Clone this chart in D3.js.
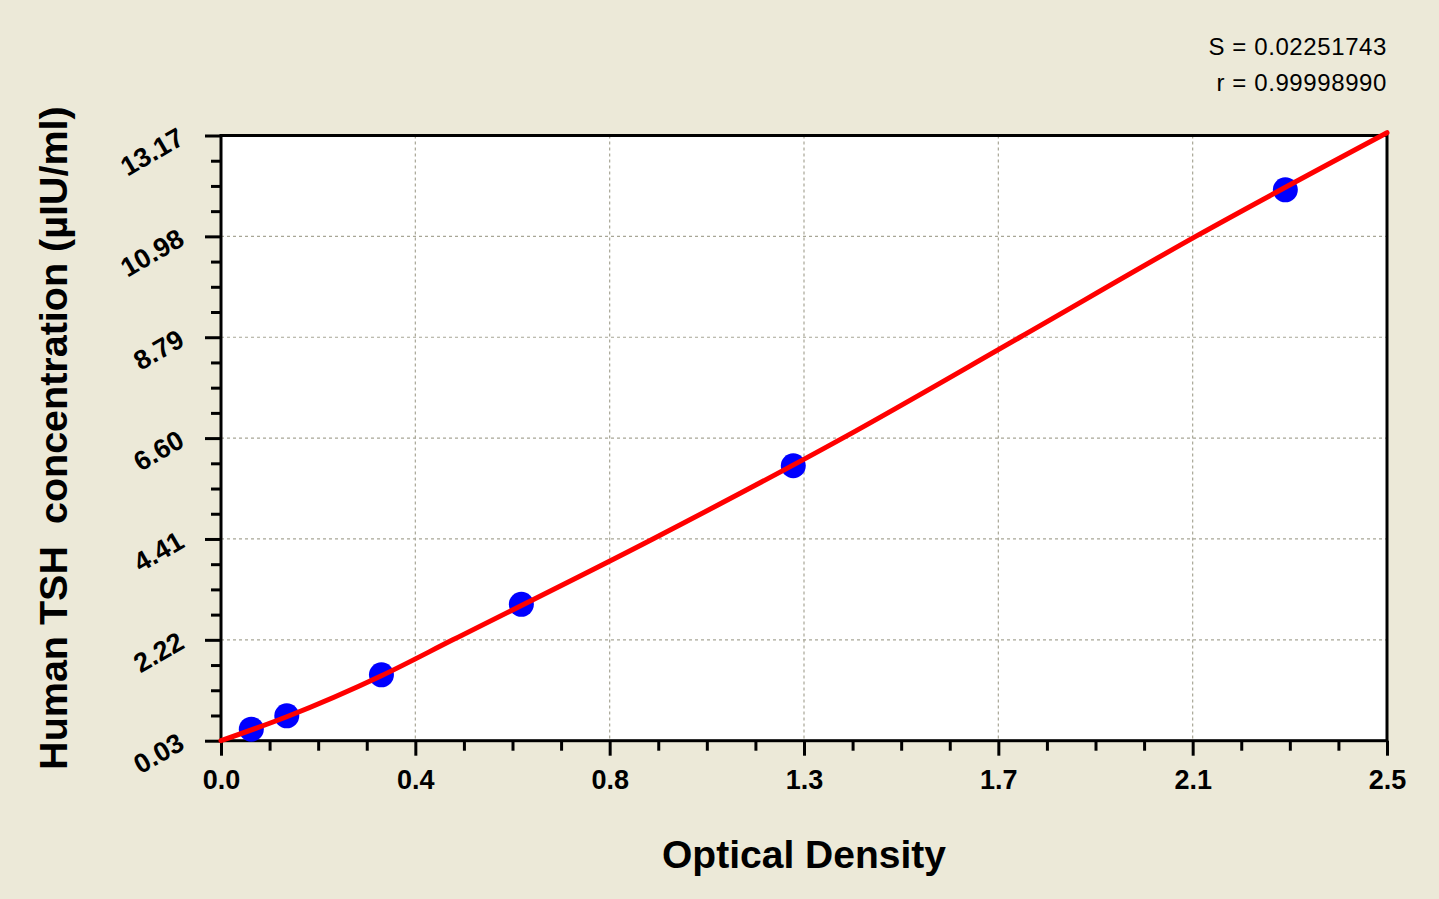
<!DOCTYPE html>
<html>
<head>
<meta charset="utf-8">
<script src="https://cdn.jsdelivr.net/npm/d3@7"></script>
<style>
  html, body { margin: 0; padding: 0; background: #ECE9D8; }
  svg { display: block; }
  text { font-family: "Liberation Sans", Arial, sans-serif; }
</style>
</head>
<body>
<svg id="chart" width="1439" height="899"></svg>
<script>
// ---- data ----
const pointOD   = [0.065, 0.141, 0.344, 0.644, 1.227, 2.282];
const pointConc = [0.28, 0.57, 1.46, 2.99, 6.00, 11.99];

// fitted curve read where it crosses the grid lines
const curveOD   = [0, 0.141, 0.344, 0.497, 0.926, 1.333, 1.713, 2.09, 2.5];
const curveConc = [0.03, 0.55, 1.44, 2.22, 4.41, 6.60, 8.79, 10.98, 13.23];

const xTickValues = [0, 0.41667, 0.83333, 1.25, 1.66667, 2.08333, 2.5];
const xTickLabels = ["0.0", "0.4", "0.8", "1.3", "1.7", "2.1", "2.5"];
const yTickValues = [0.03, 2.22, 4.41, 6.60, 8.79, 10.98, 13.17];
const yTickLabels = ["0.03", "2.22", "4.41", "6.60", "8.79", "10.98", "13.17"];

const xTitle = "Optical Density";
const yTitle = "Human TSH  concentration (\u00B5IU/ml)";
const statLines = ["S = 0.02251743", "r = 0.99998990"];

// ---- layout ----
const pL = 221, pR = 1387, pT = 135.5, pB = 740.7;
const svg = d3.select("#chart");

const x = d3.scaleLinear().domain([0, 2.5]).range([pL, pR]);
const y = d3.scaleLinear().domain([0.03, 13.17]).range([pB, pT]);

// plot background
svg.append("rect")
  .attr("x", pL).attr("y", pT)
  .attr("width", pR - pL).attr("height", pB - pT)
  .attr("fill", "#ffffff");

// grid
const grid = svg.append("g").attr("stroke", "#a8a696").attr("stroke-width", 1.2)
  .attr("stroke-dasharray", "3,3");
grid.selectAll("line.v").data(xTickValues.slice(1, -1)).join("line")
  .attr("x1", d => x(d)).attr("x2", d => x(d))
  .attr("y1", pT).attr("y2", pB);
grid.selectAll("line.h").data(yTickValues.slice(1, -1)).join("line")
  .attr("x1", pL).attr("x2", pR)
  .attr("y1", d => y(d)).attr("y2", d => y(d));

// minor ticks: 3 between each major
function minors(vals) {
  const out = [];
  for (let i = 0; i < vals.length - 1; i++) {
    for (let k = 1; k < 4; k++) out.push(vals[i] + (vals[i + 1] - vals[i]) * k / 4);
  }
  return out;
}

// x axis
const xMinor = d3.axisBottom(x).tickValues(minors(xTickValues)).tickSize(10).tickFormat("");
const xMajor = d3.axisBottom(x).tickValues(xTickValues).tickSize(15).tickPadding(14)
  .tickFormat((d, i) => xTickLabels[i]);
svg.append("g").attr("transform", `translate(0,${pB})`).call(xMinor)
  .call(g => g.select(".domain").remove())
  .call(g => g.selectAll("line").attr("stroke", "#000").attr("stroke-width", 3));
svg.append("g").attr("transform", `translate(0,${pB})`).call(xMajor)
  .call(g => g.select(".domain").remove())
  .call(g => g.selectAll("line").attr("stroke", "#000").attr("stroke-width", 3))
  .call(g => g.selectAll("text").attr("fill", "#000")
    .style("font-size", "27px").style("font-weight", "bold"));
svg.selectAll("g").attr("font-family", null);

// y axis
const yMinor = d3.axisLeft(y).tickValues(minors(yTickValues)).tickSize(10).tickFormat("");
const yMajor = d3.axisLeft(y).tickValues(yTickValues).tickSize(16)
  .tickFormat((d, i) => yTickLabels[i]);
svg.append("g").attr("transform", `translate(${pL},0)`).call(yMinor)
  .call(g => g.select(".domain").remove())
  .call(g => g.selectAll("line").attr("stroke", "#000").attr("stroke-width", 3));
svg.append("g").attr("transform", `translate(${pL},0)`).call(yMajor)
  .attr("font-family", null)
  .call(g => g.select(".domain").remove())
  .call(g => g.selectAll("line").attr("stroke", "#000").attr("stroke-width", 3))
  .call(g => g.selectAll("text")
    .attr("x", null).attr("dy", null)
    .attr("text-anchor", "end")
    .attr("transform", "translate(-35,7) rotate(-30)")
    .attr("fill", "#000")
    .style("font-size", "27px").style("font-weight", "bold"));

// frame
svg.append("rect")
  .attr("x", pL).attr("y", pT)
  .attr("width", pR - pL).attr("height", pB - pT)
  .attr("fill", "none").attr("stroke", "#000").attr("stroke-width", 3);

// points
const pts = pointOD.map((d, i) => [d, pointConc[i]]);
svg.append("g").selectAll("circle").data(pts).join("circle")
  .attr("cx", d => x(d[0])).attr("cy", d => y(d[1]))
  .attr("r", 12.5).attr("fill", "#0000ff");

// fitted curve
const cpts = curveOD.map((d, i) => [d, curveConc[i]]);
const line = d3.line().x(d => x(d[0])).y(d => y(d[1])).curve(d3.curveMonotoneX);
svg.append("path").datum(cpts)
  .attr("d", line)
  .attr("fill", "none").attr("stroke", "#ff0000").attr("stroke-width", 5)
  .attr("stroke-linecap", "round");

// axis titles
svg.append("text")
  .attr("x", (pL + pR) / 2).attr("y", 868)
  .attr("text-anchor", "middle")
  .style("font-size", "39px").style("font-weight", "bold")
  .text(xTitle);

svg.append("text")
  .attr("transform", `translate(67,${(pT + pB) / 2}) rotate(-90)`)
  .attr("text-anchor", "middle")
  .style("font-size", "39.5px").style("font-weight", "bold")
  .style("white-space", "pre")
  .text(yTitle);

// stats
svg.append("g").selectAll("text").data(statLines).join("text")
  .attr("x", 1387).attr("y", (d, i) => 55 + i * 36)
  .attr("text-anchor", "end")
  .style("font-size", "24px")
  .style("letter-spacing", "0.6px")
  .text(d => d);
</script>
</body>
</html>
